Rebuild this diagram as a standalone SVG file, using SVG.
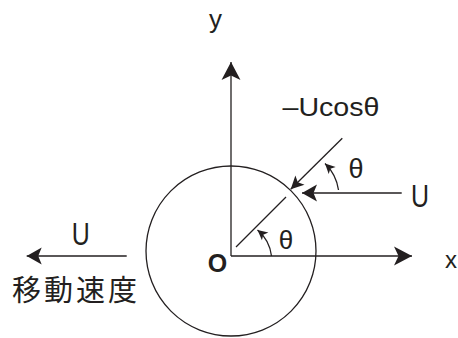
<svg xmlns="http://www.w3.org/2000/svg" width="458" height="338" viewBox="0 0 458 338">
<style>
.ln{fill:none;stroke:#231f20;stroke-width:1.3}
.t{font-family:"Liberation Sans",Arial,sans-serif;fill:#231f20}
.j{font-family:"Noto Sans CJK JP","Liberation Sans",sans-serif;fill:#231f20}
.h{fill:#231f20;stroke:none}
</style>
<defs>
<marker id="ax" markerUnits="userSpaceOnUse" orient="auto" refX="0" refY="0" markerWidth="20" markerHeight="20" overflow="visible"><path class="h" d="M0,0 L-18,-9.5 L-13.5,0 L-18,9.5 Z"/></marker>
<marker id="md" markerUnits="userSpaceOnUse" orient="auto" refX="0" refY="0" markerWidth="20" markerHeight="20" overflow="visible"><path class="h" d="M0,0 L-15,-8.5 L-11.5,0 L-15,8.5 Z"/></marker>
<marker id="sm" markerUnits="userSpaceOnUse" orient="auto" refX="0" refY="0" markerWidth="20" markerHeight="20" overflow="visible"><path class="h" d="M0,0 L-13,-6.5 L-10,0 L-13,6.5 Z"/></marker>
<marker id="tn" markerUnits="userSpaceOnUse" orient="auto" refX="0" refY="0" markerWidth="20" markerHeight="20" overflow="visible"><path class="h" d="M0,0 L-10,-5 L-7.5,0 L-10,5 Z"/></marker>
</defs>
<g id="circle"><circle class="ln" cx="231" cy="251" r="85"/></g>
<g id="connectors">
<line class="ln" x1="231" y1="256" x2="231" y2="62" marker-end="url(#ax)"/>
<line class="ln" x1="231" y1="256" x2="412" y2="256" marker-end="url(#ax)"/>
<line class="ln" x1="236" y1="247" x2="286" y2="197"/>
<line class="ln" x1="342.3" y1="138.3" x2="290.7" y2="189.3" marker-end="url(#sm)"/>
<line class="ln" x1="401.7" y1="193" x2="302" y2="193" marker-end="url(#md)"/>
<line class="ln" x1="126.7" y1="256" x2="26.7" y2="256" marker-end="url(#md)"/>
<path class="ln" d="M271.5,256 A40,40 0 0 0 257.5,230" marker-end="url(#tn)"/>
<path class="ln" d="M338.5,190 A46,46 0 0 0 325,163.5" marker-end="url(#tn)"/>
</g>
<g id="labels">
<text class="t" x="215.5" y="28" font-size="26" text-anchor="middle">y</text>
<text class="t" x="445" y="268" font-size="24">x</text>
<text class="t" x="217.5" y="272" font-size="25" font-weight="bold" text-anchor="middle">O</text>
<text class="t" x="282.5" y="116" font-size="26" textLength="97" lengthAdjust="spacingAndGlyphs">–Ucosθ</text>
<text class="t" x="356" y="178" font-size="27" text-anchor="middle">θ</text>
<text class="t" x="286" y="249" font-size="26" text-anchor="middle">θ</text>
<text class="t" transform="translate(420,207.3) scale(0.78,1)" font-size="32" text-anchor="middle">U</text>
<text class="t" transform="translate(80.7,245) scale(0.78,1)" font-size="32" text-anchor="middle">U</text>
<text class="j" x="12" y="301" font-size="29" textLength="125" lengthAdjust="spacing">移動速度</text>
</g>
</svg>
